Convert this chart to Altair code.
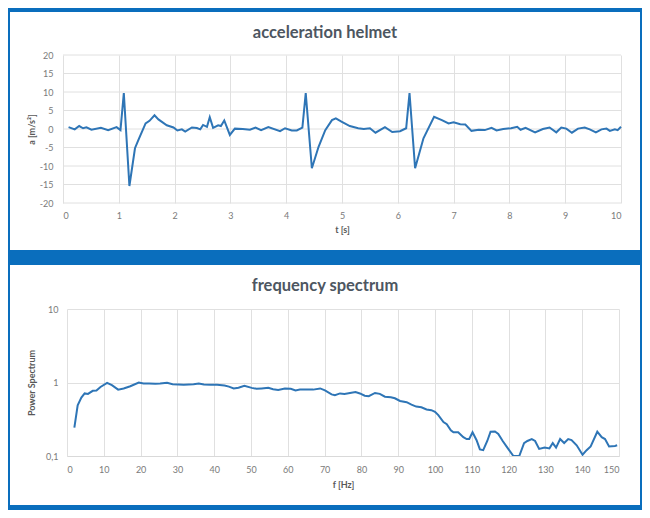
import altair as alt
import pandas as pd

# ---- acceleration helmet (time series) ----
t = [0.10, 0.21, 0.29, 0.36, 0.42, 0.51, 0.68, 0.81, 0.96, 1.03, 1.09, 1.19, 1.29, 1.35,
     1.48, 1.55, 1.64, 1.71, 1.86, 1.98, 2.05, 2.13, 2.19, 2.31, 2.40, 2.46, 2.51, 2.58,
     2.63, 2.69, 2.78, 2.83, 2.89, 2.99, 3.08, 3.22, 3.35, 3.45, 3.55, 3.68, 3.89, 3.98,
     4.10, 4.19, 4.29, 4.35, 4.46, 4.58, 4.70, 4.82, 4.89, 4.99, 5.14, 5.29, 5.39, 5.50,
     5.60, 5.77, 5.90, 6.04, 6.15, 6.21, 6.31, 6.46, 6.65, 6.79, 6.91, 7.00, 7.12, 7.21,
     7.32, 7.45, 7.56, 7.68, 7.77, 7.89, 8.03, 8.14, 8.20, 8.29, 8.46, 8.60, 8.72, 8.84,
     8.93, 9.02, 9.12, 9.23, 9.35, 9.44, 9.55, 9.65, 9.74, 9.80, 9.89, 9.94, 10.00]
a = [0.5, -0.1, 0.8, 0.2, 0.45, -0.2, 0.3, -0.3, 0.5, -0.3, 9.7, -15.4, -5.2, -3.0,
     1.5, 2.2, 3.7, 2.6, 1.0, 0.4, -0.4, -0.1, -0.7, 0.4, 0.25, -0.1, 1.1, 0.6,
     3.2, 0.3, 1.0, 0.8, 2.3, -1.6, 0.1, 0.0, -0.2, 0.4, -0.3, 0.5, -0.6, 0.2,
     -0.4, -0.4, 0.4, 9.7, -10.6, -4.8, -0.3, 2.4, 2.9, 2.0, 0.8, 0.2, 0.0, 0.2,
     -1.0, 0.5, -0.8, -0.6, 0.2, 9.7, -10.6, -2.5, 3.3, 2.4, 1.5, 1.8, 1.3, 1.2,
     -0.5, -0.2, -0.3, 0.3, -0.4, 0.0, 0.2, 0.6, -0.2, 0.3, -0.9, 0.0, 0.4, -0.9,
     0.4, 0.1, -1.0, 0.1, 0.4, -0.1, -0.9, -0.1, 0.1, -0.5, -0.1, -0.3, 0.6]

# ---- frequency spectrum ----
freq = [2.0, 2.9, 3.9, 4.8, 5.7, 7.0, 8.0, 9.1, 10.9, 12.2, 13.9, 15.4, 17.2, 19.5,
        20.8, 22.3, 24.0, 25.3, 27.2, 28.7, 30.3, 31.7, 33.1, 34.4, 35.8, 37.2, 39.0,
        40.8, 42.8, 44.0, 45.3, 46.6, 48.2, 50.2, 51.5, 52.9, 54.7, 56.0, 57.4, 59.2,
        60.8, 62.1, 63.3, 65.1, 66.9, 68.8, 70.1, 71.9, 72.8, 74.2, 75.4, 76.9, 78.4,
        79.6, 80.9, 82.0, 83.7, 85.0, 86.4, 88.0, 89.1, 90.5, 92.3, 93.6, 94.9, 96.3,
        97.7, 99.0, 100.0, 100.9, 102.3, 103.2, 104.3, 105.0, 106.3, 107.7, 108.6,
        109.3, 110.2, 111.3, 112.2, 113.1, 114.2, 115.1, 116.3, 117.2, 118.4, 119.9,
        121.3, 122.9, 124.2, 125.1, 126.3, 127.2, 128.3, 129.8, 131.1, 132.0, 132.9,
        134.0, 135.1, 136.2, 137.1, 138.5, 140.1, 141.2, 142.3, 144.1, 145.3, 146.2,
        147.3, 148.9, 149.5]
power = [0.244, 0.49, 0.625, 0.71, 0.70, 0.77, 0.78, 0.87, 0.99, 0.92, 0.80, 0.83, 0.89, 1.0,
         0.97, 0.97, 0.96, 0.97, 0.99, 0.95, 0.94, 0.93, 0.94, 0.95, 0.97, 0.94, 0.93,
         0.93, 0.91, 0.88, 0.83, 0.85, 0.90, 0.845, 0.82, 0.83, 0.845, 0.81, 0.79, 0.83,
         0.82, 0.78, 0.80, 0.80, 0.80, 0.83, 0.78, 0.69, 0.67, 0.71, 0.70, 0.72, 0.74,
         0.71, 0.66, 0.65, 0.72, 0.70, 0.64, 0.63, 0.61, 0.56, 0.54, 0.50, 0.47, 0.46,
         0.43, 0.42, 0.40, 0.36, 0.29, 0.27, 0.224, 0.21, 0.21, 0.18, 0.17,
         0.17, 0.21, 0.164, 0.123, 0.12, 0.16, 0.214, 0.216, 0.20, 0.16, 0.125,
         0.10, 0.10, 0.15, 0.16, 0.17, 0.16, 0.125, 0.13, 0.127, 0.15, 0.13,
         0.17, 0.15, 0.17, 0.165, 0.14, 0.104, 0.12, 0.135, 0.214, 0.18, 0.17,
         0.135, 0.137, 0.14]

t_ticks = list(range(0, 11))
a_ticks = list(range(-20, 21, 5))
f_ticks = list(range(0, 151, 10))
p_ticks = [0.1, 1, 10]

BLUE = "#0a6ebd"
LINE = "#2e75b6"
FONT = "Lato"
TITLE_COLOR = "#4d5661"
LABEL_COLOR = "#7a7a7a"
AXTITLE_COLOR = "#595959"
GRID = "#e0e0e0"


def strip(x1, x2, y1, y2):
    return alt.Chart(alt.Data(values=[{}])).mark_rect(color=BLUE).encode(
        x=alt.value(x1), x2=alt.value(x2), y=alt.value(y1), y2=alt.value(y2)
    )


def frame(left, right, top, bottom, lw, rw, tw, bw):
    return [
        strip(left - lw, left, top - tw, bottom + bw),
        strip(right, right + rw, top - tw, bottom + bw),
        strip(left - lw, right + rw, top - tw, top),
        strip(left - lw, right + rw, bottom, bottom + bw),
    ]


W1, H1 = 554, 148
W2, H2 = 552, 147

y1_scale = alt.Scale(domain=[-20, 20], nice=False)
y1_axis = alt.Axis(values=a_ticks, title="a [m/s²]", grid=False, ticks=False,
                   domain=False, labelPadding=14, titlePadding=3,
                   labelExpr="'' + datum.value")

# horizontal gridlines of the top panel (span the full shifted x range)
hgrid1 = alt.Chart(pd.DataFrame({"a": a_ticks})).mark_rule(color=GRID, strokeWidth=1).encode(
    y=alt.Y("a:Q", scale=y1_scale, axis=y1_axis),
    x=alt.value(-4), x2=alt.value(W1),
)

df1 = pd.DataFrame({"t": t, "a": a})
line1 = alt.Chart(df1).mark_line(color=LINE, strokeWidth=2).encode(
    x=alt.X("t:Q", scale=alt.Scale(domain=[0, 10], nice=False, range=[-4, W1]),
            axis=alt.Axis(values=t_ticks, title="t [s]", grid=True, ticks=False,
                          domain=False, labelPadding=8,
                          titlePadding=5, labelExpr="'' + datum.value")),
    y=alt.Y("a:Q", scale=y1_scale, axis=y1_axis),
)
top = alt.layer(*frame(-57, W1 + 19, -43, H1 + 47, 2, 2, 4, 7), hgrid1, line1).properties(
    width=W1, height=H1,
    title=alt.TitleParams("acceleration helmet", dx=-19, offset=-33),
)

df2 = pd.DataFrame({"f": freq, "p": power})
line2 = alt.Chart(df2).mark_line(color=LINE, strokeWidth=2, clip=True).encode(
    x=alt.X("f:Q", scale=alt.Scale(domain=[0, 150], nice=False),
            axis=alt.Axis(values=f_ticks, title="f [Hz]", grid=True, ticks=False,
                          domain=True, domainColor="#d9d9d9", labelPadding=9,
                          titlePadding=6, labelExpr="'' + datum.value")),
    y=alt.Y("p:Q", scale=alt.Scale(type="log", domain=[0.1, 10], nice=False),
            axis=alt.Axis(values=p_ticks, title="Power Spectrum", grid=True, ticks=False,
                          domain=False, labelPadding=9, titlePadding=9,
                          labelExpr="replace('' + datum.value, '.', ',')")),
)
bottom = alt.layer(*frame(-57, W2 + 21, -44, H2 + 49, 2, 2, 8, 5), line2).properties(
    width=W2, height=H2,
    title=alt.TitleParams("frequency spectrum", dx=-18, offset=-37),
)

chart = alt.vconcat(top, bottom, spacing=0).properties(
    padding=0, background="white"
).configure_view(strokeWidth=0, fill="white").configure_axis(
    labelFont=FONT, labelFontSize=9, labelColor=LABEL_COLOR,
    titleFont=FONT, titleFontSize=9, titleFontWeight="bold", titleColor=AXTITLE_COLOR,
    gridColor=GRID, gridWidth=1,
).configure_title(
    font=FONT, fontSize=16.5, fontWeight="bold", color=TITLE_COLOR, anchor="middle",
)

chart.save("out.html", embed_options={"renderer": "svg", "actions": False})
